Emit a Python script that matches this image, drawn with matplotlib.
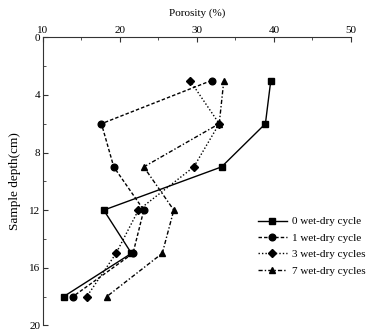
import matplotlib
matplotlib.use("Agg")
import matplotlib.pyplot as plt
from matplotlib.ticker import MultipleLocator

# sample depths (cm) and porosity (%) for each wet-dry case
depth = [3, 6, 9, 12, 15, 18]
cycle0 = [39.6, 38.9, 33.2, 17.9, 21.5, 12.7]
cycle1 = [31.9, 17.6, 19.2, 23.1, 21.7, 13.9]
cycle3 = [29.1, 32.9, 29.6, 22.4, 19.5, 15.7]
cycle7 = [33.5, 32.9, 23.1, 27.0, 25.5, 18.3]
labels = ["0 wet-dry cycle", "1 wet-dry cycle", "3 wet-dry cycles", "7 wet-dry cycles"]

plt.rcParams['font.family'] = ['Liberation Serif', 'DejaVu Serif']
plt.rcParams['font.size'] = 8

fig = plt.figure(figsize=(3.67, 3.33), dpi=100)
ax = fig.add_axes([0.117, 0.023, 0.839, 0.865])

styles = [
    ('-', 's', 4.3),
    ((0, (2.5, 1.5)), 'o', 4.8),
    ((0, (1, 1.5)), 'D', 4.0),
    ((0, (3, 1.5, 1, 1.5)), '^', 5.0),
]
for vals, lab, (ls, mk, ms) in zip([cycle0, cycle1, cycle3, cycle7], labels, styles):
    ax.plot(vals, depth, color='black', linestyle=ls, marker=mk, markersize=ms,
            linewidth=1, label=lab)

ax.set_xlim(10, 50)
ax.set_ylim(20, 0)
ax.xaxis.set_ticks_position('top')
ax.xaxis.set_label_position('top')
ax.xaxis.set_major_locator(MultipleLocator(10))
ax.xaxis.set_minor_locator(MultipleLocator(5))
ax.yaxis.set_major_locator(MultipleLocator(4))
ax.yaxis.set_minor_locator(MultipleLocator(2))
ax.tick_params(which='both', direction='in', pad=2, color='#333333')
ax.tick_params(which='major', length=3.5)
ax.tick_params(which='minor', length=2)
for s in ['left', 'top']:
    ax.spines[s].set_color('#333333')
ax.spines['right'].set_visible(False)
ax.spines['bottom'].set_visible(False)
ax.set_xlabel("Porosity (%)", labelpad=7)
ax.set_ylabel("Sample depth(cm)", fontsize=9.5, labelpad=6)

ax.legend(loc='upper left', bbox_to_anchor=(0.69, 0.385), frameon=False,
          handlelength=2.6, handletextpad=0.5, labelspacing=0.6, borderpad=0.2,
          borderaxespad=0)

fig.savefig("out.png", dpi=100)
